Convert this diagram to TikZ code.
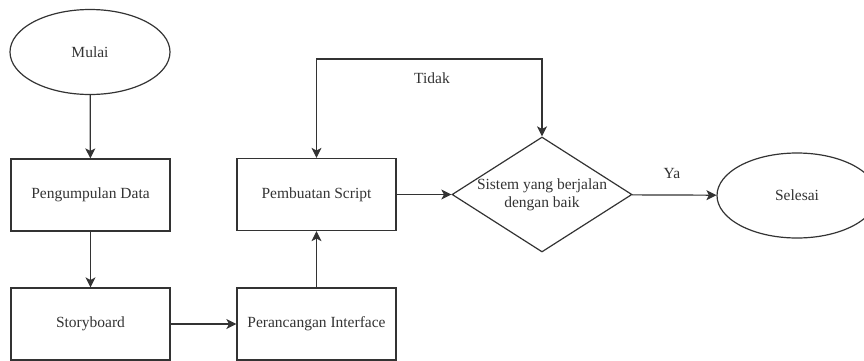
\documentclass[tikz,border=0pt]{standalone}
\usepackage{fontspec}
\setmainfont{Liberation Serif}
\usetikzlibrary{arrows.meta,shapes.geometric}

\tikzset{
  tip/.style={-{Stealth[length=10pt,width=10pt,inset=2.5pt]}}
}

\begin{document}
\begin{tikzpicture}[x=1pt,y=-1pt,line width=1.2pt,
    font=\rmfamily\fontsize{15.5}{18}\selectfont, color=black!80]

      \useasboundingbox (0,0) rectangle (864,360);

      \begin{scope}[every node/.style={draw,rectangle,minimum width=159pt,minimum height=72pt}]
        \node (data)   at (90.5,195)   {Pengumpulan Data};
        \node (story)  at (90.5,324)   {Storyboard};
        \node (ui)     at (316.5,324)  {Perancangan Interface};
        \node (script) at (316.5,194.5) {Pembuatan Script};
      \end{scope}

      \begin{scope}[every node/.style={draw,ellipse,minimum width=160pt,minimum height=85pt}]
        \node (mulai)   at (90,52)    {Mulai};
        \node (selesai) at (797,195.5) {Selesai};
      \end{scope}

      \node[draw,diamond,minimum width=180pt,minimum height=115pt,inner sep=0pt] (cek) at (542,194.5) {};
      \node[align=center] (cektext) at (cek) {Sistem yang berjalan\\dengan baik};

      \node (tidak) at (432,78)  {Tidak};
      \node (ya)    at (672,173) {Ya};
      \coordinate (atas) at (432,59);

      \begin{scope}[every edge/.style={draw,tip}]
        \path (mulai)  edge (data);
        \path (data)   edge (story);
        \path (story)  edge (ui);
        \path (ui)     edge (script);
        \path (script) edge (cek);
        \path (cek)    edge (selesai);
      \end{scope}

      \draw[{Stealth[length=10pt,width=10pt,inset=2.5pt]}-{Stealth[length=10pt,width=10pt,inset=2.5pt]}]
        (script.north) |- (atas) -| (cek.north);

    \end{tikzpicture}
\end{document}
